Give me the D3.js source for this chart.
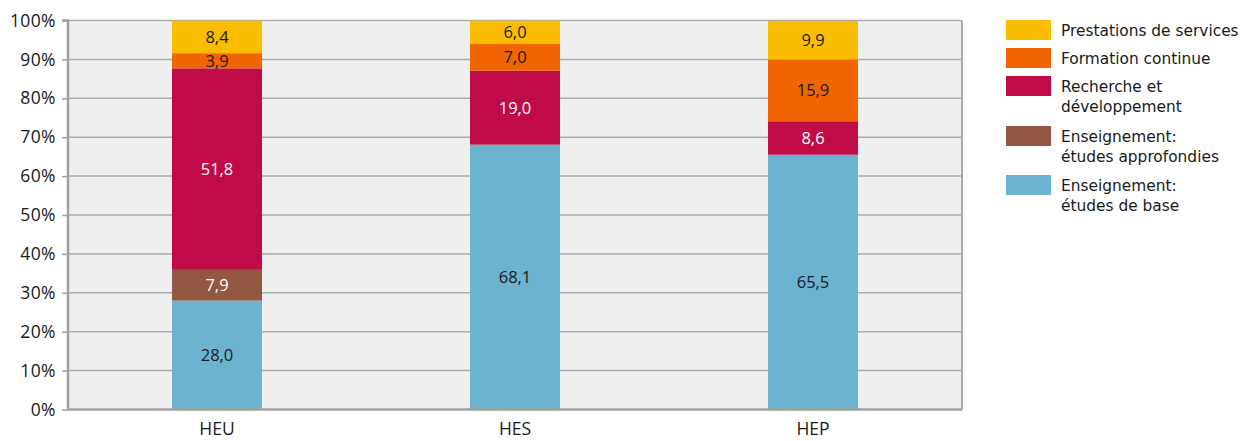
<!DOCTYPE html>
<html>
<head>
<meta charset="utf-8">
<script src="https://cdn.jsdelivr.net/npm/d3@7"></script>
<style>
  html, body { margin: 0; padding: 0; background: #fff; }
  svg { display: block; font-family: "Open Sans", "Noto Sans", sans-serif; }
</style>
</head>
<body>
<svg id="chart" width="1244" height="441"></svg>
<script>
// Institution types
const categories = ["HEU", "HES", "HEP"];

// Series, bottom to top in the stack
const seriesNames = [
  "Enseignement: études de base",
  "Enseignement: études approfondies",
  "Recherche et développement",
  "Formation continue",
  "Prestations de services"
];
const basicTeaching    = [28.0, 68.1, 65.5];
const advancedTeaching = [7.9, 0, 0];
const research         = [51.8, 19.0, 8.6];
const continuingEd     = [3.9, 7.0, 15.9];
const services         = [8.4, 6.0, 9.9];

const yTickValues = [0, 10, 20, 30, 40, 50, 60, 70, 80, 90, 100];

const colors = ["#6cb3d0", "#925641", "#c10b48", "#f06500", "#fbbd00"];
const labelColors = ["#1a1a1a", "#ffffff", "#ffffff", "#1a1a1a", "#1a1a1a"];

// Legend order (top to bottom) and its line breaks
const legendItems = [
  { idx: 4, lines: ["Prestations de services"], y: 20 },
  { idx: 3, lines: ["Formation continue"], y: 48 },
  { idx: 2, lines: ["Recherche et", "développement"], y: 76 },
  { idx: 1, lines: ["Enseignement:", "études approfondies"], y: 126 },
  { idx: 0, lines: ["Enseignement:", "études de base"], y: 175 }
];

const seriesValues = [basicTeaching, advancedTeaching, research, continuingEd, services];
const rows = categories.map((c, i) => {
  const r = { cat: c };
  seriesNames.forEach((s, k) => r[s] = seriesValues[k][i]);
  return r;
});

const svg = d3.select("#chart");
const plotLeft = 68, plotRight = 962, plotTop = 20.5, plotBottom = 409.5;

const x = d3.scaleBand().domain(categories).range([plotLeft, plotRight]).paddingInner(0.698).paddingOuter(0.349);
const y = d3.scaleLinear().domain([0, 100]).range([plotBottom, plotTop]);

// Plot background
svg.append("rect")
  .attr("x", plotLeft).attr("y", plotTop)
  .attr("width", plotRight - plotLeft).attr("height", plotBottom - plotTop)
  .attr("fill", "#efefef");

// Horizontal gridlines
svg.append("g")
  .selectAll("line")
  .data(yTickValues.filter(d => d > 0))
  .join("line")
  .attr("x1", plotLeft).attr("x2", plotRight)
  .attr("y1", d => y(d)).attr("y2", d => y(d))
  .attr("stroke", "#ababab").attr("stroke-width", 1.5);

// Right border
svg.append("line")
  .attr("x1", plotRight).attr("x2", plotRight).attr("y1", plotTop).attr("y2", plotBottom)
  .attr("stroke", "#ababab").attr("stroke-width", 2);

const stack = d3.stack().keys(seriesNames);
const stacked = stack(rows);

svg.append("defs").append("clipPath").attr("id", "plotClip")
  .append("rect").attr("x", plotLeft).attr("y", plotTop)
  .attr("width", plotRight - plotLeft).attr("height", plotBottom - plotTop);

const barsG = svg.append("g").attr("clip-path", "url(#plotClip)");
stacked.forEach((layer, k) => {
  barsG.append("g")
    .attr("fill", colors[k])
    .selectAll("rect")
    .data(layer.filter(d => d[1] - d[0] > 0))
    .join("rect")
    .attr("x", d => x(d.data.cat))
    .attr("width", x.bandwidth())
    .attr("y", d => y(Math.min(100, d[1])))
    .attr("height", d => y(d[0]) - y(Math.min(100, d[1])));
});

// Value labels
const fmt = v => v.toFixed(1).replace(".", ",");
stacked.forEach((layer, k) => {
  svg.append("g")
    .selectAll("text")
    .data(layer.filter(d => d[1] - d[0] > 0))
    .join("text")
    .attr("x", d => x(d.data.cat) + x.bandwidth() / 2)
    .attr("y", d => (y(d[0]) + y(Math.min(100, d[1]))) / 2)
    .attr("dy", "0.36em")
    .attr("text-anchor", "middle")
    .attr("font-size", 16.5)
    .attr("fill", labelColors[k])
    .text(d => fmt(d[1] - d[0]));
});

// Y axis
const yAxis = d3.axisLeft(y).tickValues(yTickValues).tickFormat(d => d + "%").tickSize(6).tickPadding(6);
const yg = svg.append("g").attr("transform", `translate(${plotLeft},0)`).call(yAxis);
yg.select(".domain").attr("stroke", "#a0a0a0").attr("stroke-width", 2.5)
  .attr("d", `M-6,${plotTop}H0V${plotBottom}`);
yg.selectAll(".tick line").attr("stroke", "#a0a0a0").attr("stroke-width", 1.5);
yg.selectAll(".tick text").attr("font-size", 17.5).attr("fill", "#1a1a1a")
  .attr("letter-spacing", 0.4)
  .attr("font-family", "'Open Sans', 'Noto Sans', sans-serif");

// X axis
const xAxis = d3.axisBottom(x).tickSize(0).tickPadding(13);
const xg = svg.append("g").attr("transform", `translate(0,${plotBottom})`).call(xAxis);
xg.select(".domain").attr("stroke", "#a0a0a0").attr("stroke-width", 2.5)
  .attr("d", `M${plotLeft},0H${plotRight}`);
xg.selectAll(".tick text").attr("font-size", 17.5).attr("fill", "#1a1a1a")
  .attr("font-family", "'Open Sans', 'Noto Sans', sans-serif");

// Legend: tight two-line entries, set in a face with compact line metrics
const lg = svg.append("g");
legendItems.forEach(item => {
  lg.append("rect")
    .attr("x", 1006).attr("y", item.y)
    .attr("width", 45).attr("height", 20)
    .attr("fill", colors[item.idx]);
  item.lines.forEach((ln, j) => {
    lg.append("text")
      .attr("x", 1061).attr("y", item.y + 10 + j * 20)
      .attr("dy", "0.36em")
      .attr("font-family", "'DejaVu Sans', sans-serif")
      .attr("font-size", 15.4)
      .attr("fill", "#1a1a1a")
      .text(ln);
  });
});
</script>
</body>
</html>
